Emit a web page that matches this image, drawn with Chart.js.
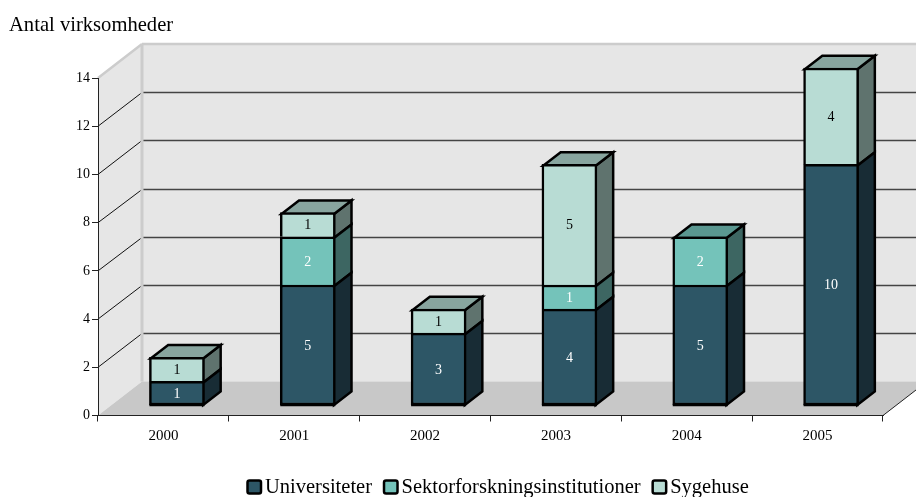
<!DOCTYPE html>
<html>
<head>
<meta charset="utf-8">
<title>Antal virksomheder</title>
<script src="https://cdn.jsdelivr.net/npm/chart.js@4"></script>
<style>
html, body { margin: 0; padding: 0; background: #fff; overflow: hidden; }
canvas { display: block; }
</style>
</head>
<body>
<canvas id="myChart" width="916" height="497"></canvas>
<script>
var years = ["2000", "2001", "2002", "2003", "2004", "2005"];
var universiteter = [1, 5, 3, 4, 5, 10];
var sektor = [null, 2, null, 1, 2, null];
var sygehuse = [1, 1, 1, 5, null, 4];

var font = "'Liberation Serif', 'Times New Roman', serif";

// colours per series: front, side, top, label
var colors = [
	{ front: "#2d5666", side: "#182c35", top: "#213f4b", text: "#ffffff" },
	{ front: "#74c3ba", side: "#3d6662", top: "#5a9790", text: "#ffffff" },
	{ front: "#b8dcd4", side: "#5f736e", top: "#88a59f", text: "#000000" }
];

// wall depth and bar depth, in pixels
var wallX = 44, wallY = 34;
var barOffX = 13.5, barOffY = 10;
var barDepthX = 17.5, barDepthY = 13.5;
var edge = 2.5;

function poly(ctx, pts) {
	ctx.beginPath();
	ctx.moveTo(pts[0][0], pts[0][1]);
	for (var i = 1; i < pts.length; i++) {
		ctx.lineTo(pts[i][0], pts[i][1]);
	}
	ctx.closePath();
}

function line(ctx, x1, y1, x2, y2, color, width) {
	ctx.strokeStyle = color;
	ctx.lineWidth = width;
	ctx.beginPath();
	ctx.moveTo(x1, y1);
	ctx.lineTo(x2, y2);
	ctx.stroke();
}

/* Paredes y suelo del fondo */
var wallsPlugin = {
	id: "walls",
	beforeDraw: function(chart) {
		var ctx = chart.ctx, a = chart.chartArea, yScale = chart.scales.y;
		ctx.save();
		ctx.fillStyle = "#e6e6e6";
		poly(ctx, [[a.left, a.top], [a.left + wallX, a.top - wallY], [a.right + wallX, a.top - wallY], [a.right + wallX, a.bottom - wallY], [a.left + wallX, a.bottom - wallY], [a.left, a.bottom]]);
		ctx.fill();
		ctx.fillStyle = "#c8c8c8";
		poly(ctx, [[a.left, a.bottom], [a.left + wallX, a.bottom - wallY], [a.right + wallX, a.bottom - wallY], [a.right, a.bottom]]);
		ctx.fill();

		yScale.ticks.forEach(function(t) {
			if (t.value === 0 || t.value === yScale.max) return;
			var y = yScale.getPixelForValue(t.value);
			var back = Math.round(y - wallY) + 0.5;
			line(ctx, a.left, y, a.left + wallX, back, "#111111", 1);
			line(ctx, a.left + wallX, back, a.right + wallX, back, "#444444", 1.3);
		});

		// light edges of the walls
		line(ctx, a.left, a.top, a.left + wallX, a.top - wallY, "#cccccc", 2.5);
		line(ctx, a.left + wallX, a.top - wallY, a.right + wallX, a.top - wallY, "#cccccc", 2.5);
		line(ctx, a.left + wallX, a.top - wallY, a.left + wallX, a.bottom - wallY, "#cccccc", 3);
		line(ctx, a.right, a.bottom, a.right + wallX, a.bottom - wallY, "#222222", 1);
		ctx.restore();
	}
};

/* Caras laterales y superior de cada barra */
var boxPlugin = {
	id: "box3d",
	beforeDatasetDraw: function(chart, args) {
		var ctx = chart.ctx, i = args.index, c = colors[i];
		var meta = chart.getDatasetMeta(i);
		ctx.save();
		ctx.translate(barOffX, -barOffY);
		ctx.strokeStyle = "#000000";
		ctx.lineWidth = edge;
		ctx.lineJoin = "miter";
		meta.data.forEach(function(el, j) {
			if (chart.data.datasets[i].data[j] === null) return;
			var p = el.getProps(["x", "y", "base", "width"]);
			var right = p.x + p.width / 2 - edge / 2;
			var left = p.x - p.width / 2 + edge / 2;
			var top = p.y + edge / 2;
			var bottom = i === 0 ? p.base : p.base + edge / 2;
			ctx.fillStyle = c.side;
			poly(ctx, [[right, top], [right + barDepthX, top - barDepthY], [right + barDepthX, bottom - barDepthY], [right, bottom]]);
			ctx.fill();
			ctx.stroke();

			var isTop = true;
			for (var k = i + 1; k < chart.data.datasets.length; k++) {
				if (chart.data.datasets[k].data[j] !== null) isTop = false;
			}
			if (isTop) {
				ctx.fillStyle = c.top;
				poly(ctx, [[left, top], [left + barDepthX, top - barDepthY], [right + barDepthX, top - barDepthY], [right, top]]);
				ctx.fill();
				ctx.stroke();
			}
		});
		ctx.restore();

		ctx.save();
		ctx.translate(barOffX, -barOffY);
	},
	afterDatasetDraw: function(chart, args) {
		var ctx = chart.ctx, i = args.index, data = chart.data.datasets[i].data;
		ctx.font = "14px " + font;
		ctx.textAlign = "center";
		ctx.textBaseline = "middle";
		chart.getDatasetMeta(i).data.forEach(function(el, j) {
			if (data[j] === null) return;
			var p = el.getProps(["x", "y", "base", "width"]);
			if (i === 0) {
				// close the stack at the bottom
				ctx.fillStyle = "#000000";
				ctx.fillRect(p.x - p.width / 2, p.base - 1.25, p.width, 2.5);
			}
			ctx.fillStyle = colors[i].text;
			ctx.fillText(String(data[j]), p.x, (p.y + p.base) / 2 + 1);
		});
		ctx.restore();
	}
};

/* Leyenda: el hueco entre cuadro y texto es mas corto que el de Chart.js */
var legendPlugin = {
	id: "legendBoxes",
	afterDraw: function(chart) {
		var ctx = chart.ctx, x = 247.5, baseline = 493;
		ctx.save();
		ctx.font = "20.5px " + font;
		ctx.textAlign = "left";
		ctx.textBaseline = "alphabetic";
		chart.data.datasets.forEach(function(ds, i) {
			ctx.beginPath();
			ctx.roundRect(x, baseline - 12.5, 13.5, 13, 2);
			ctx.fillStyle = colors[i].front;
			ctx.fill();
			ctx.strokeStyle = "#000000";
			ctx.lineWidth = 2.5;
			ctx.stroke();
			x += 17.5;
			ctx.fillStyle = "#000000";
			ctx.fillText(ds.label, x, baseline);
			x += ctx.measureText(ds.label).width + 12;
		});
		ctx.restore();
	}
};

function makeDataset(label, values, i) {
	return {
		label: label,
		data: values,
		backgroundColor: colors[i].front,
		borderColor: "#000000",
		borderSkipped: false,
		borderWidth: { top: edge, left: edge, right: edge, bottom: i === 0 ? edge : 0 },
		barThickness: 55,
		clip: false
	};
}

var chart = new Chart(document.getElementById("myChart").getContext("2d"), {
	type: "bar",
	data: {
		labels: years,
		datasets: [
			makeDataset("Universiteter", universiteter, 0),
			makeDataset("Sektorforskningsinstitutioner", sektor, 1),
			makeDataset("Sygehuse", sygehuse, 2)
		]
	},
	plugins: [wallsPlugin, boxPlugin, legendPlugin],
	options: {
		responsive: false,
		animation: false,
		layout: { padding: { left: 9, right: 33, top: 0, bottom: 0 } },
		plugins: {
			tooltip: { enabled: false },
			legend: { display: false },
			title: {
				display: true,
				text: "Antal virksomheder",
				align: "start",
				color: "#000000",
				font: { family: font, size: 20.6, weight: "normal" },
				padding: { top: 13, bottom: 40.3 }
			}
		},
		scales: {
			x: {
				stacked: true,
				grid: { drawOnChartArea: false, drawTicks: true, tickLength: 6, color: "#222222", offset: true },
				border: { display: true, color: "#222222", width: 1 },
				ticks: { color: "#000000", font: { family: font, size: 15 }, padding: 6, maxRotation: 0 },
				afterFit: function(s) { s.height = 81.5; }
			},
			y: {
				stacked: true,
				min: 0,
				max: 14,
				grid: { drawOnChartArea: false, drawTicks: true, tickLength: 6, color: "#222222" },
				border: { display: true, color: "#222222", width: 1 },
				ticks: { stepSize: 2, color: "#000000", font: { family: font, size: 14 }, padding: 2 },
				afterFit: function(s) { s.width = 89; }
			}
		}
	}
});
</script>
</body>
</html>
